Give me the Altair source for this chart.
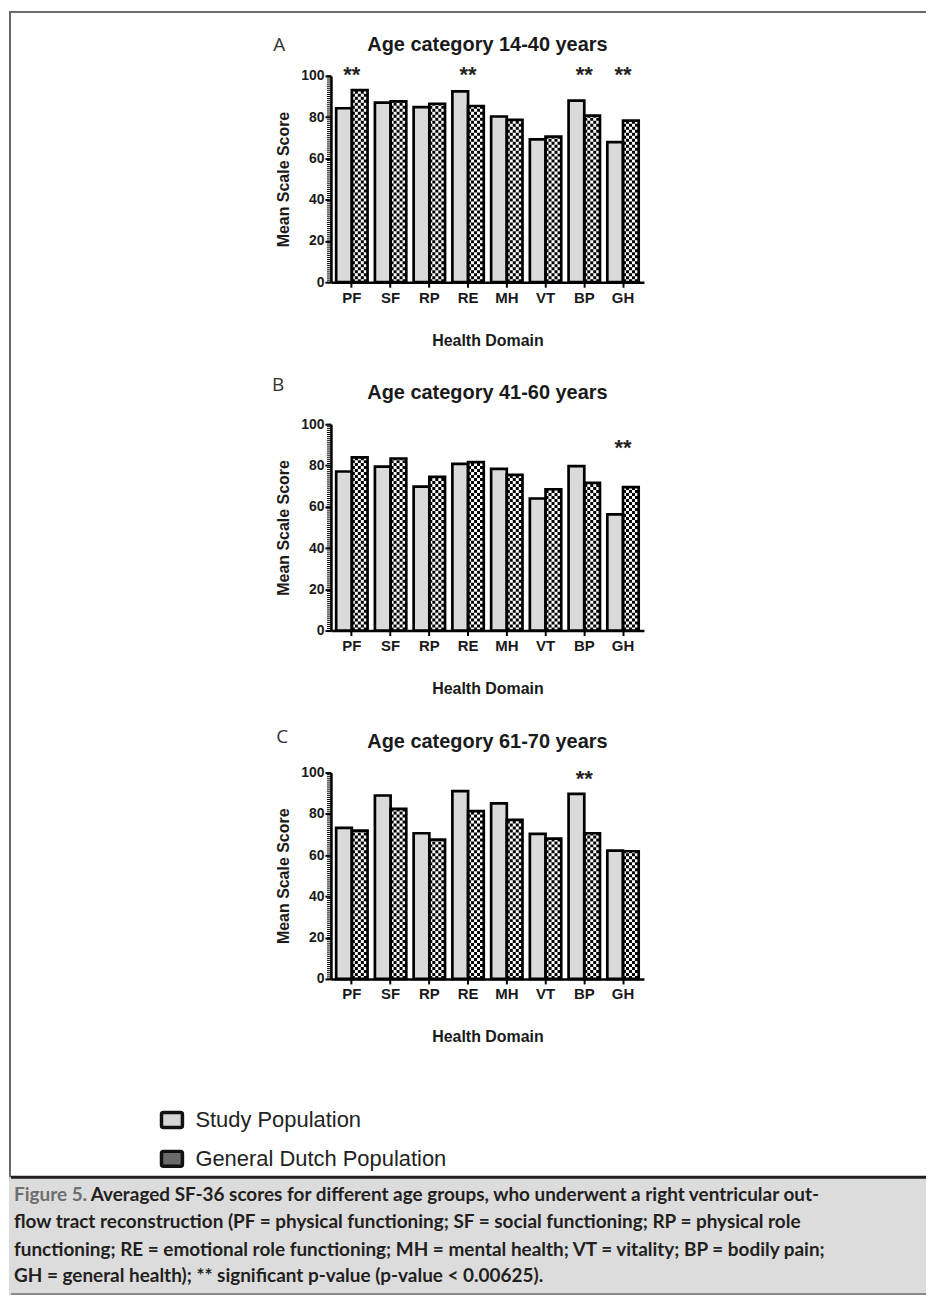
import altair as alt
import pandas as pd

# ---------------- data ----------------
domains = ["PF", "SF", "RP", "RE", "MH", "VT", "BP", "GH"]
groups = ["Study Population", "General Dutch Population"]
panel_letters = ["A", "B", "C"]
panel_titles = ["Age category 14-40 years", "Age category 41-60 years", "Age category 61-70 years"]

study_a = [84.3, 87.0, 84.9, 92.5, 80.3, 69.2, 88.0, 67.9]
dutch_a = [93.1, 87.6, 86.5, 85.4, 78.7, 70.6, 80.7, 78.3]
study_b = [77.1, 79.5, 69.8, 80.8, 78.4, 64.0, 79.7, 56.3]
dutch_b = [83.9, 83.4, 74.5, 81.6, 75.5, 68.5, 71.6, 69.5]
study_c = [73.2, 88.9, 70.6, 91.0, 85.1, 70.3, 89.7, 62.2]
dutch_c = [71.9, 82.4, 67.5, 81.3, 77.1, 68.0, 70.6, 61.9]

significant_a = ["PF", "RE", "BP", "GH"]
significant_b = ["GH"]
significant_c = ["BP"]
star_levels = [97.2, 85.0, 93.3]
star_label = "**"

y_ticks = [0, 20, 40, 60, 80, 100]
minor_ticks = list(range(0, 101))

y_title = "Mean Scale Score"
x_title = "Health Domain"

caption_head = "Figure 5."
caption_lines = [
    "Averaged SF-36 scores for different age groups, who underwent a right ventricular out-",
    "flow tract reconstruction (PF = physical functioning; SF = social functioning; RP = physical role",
    "functioning; RE = emotional role functioning; MH = mental health; VT = vitality; BP = bodily pain;",
    "GH = general health); ** significant p-value (p-value < 0.00625).",
]

# ---------------- styling ----------------
FONT = "Liberation Sans, Arial, Helvetica, sans-serif"
CAP_FONT = "Lato"
W, H = 314, 207
DARK = "#1a1a1a"

xaxis = alt.Axis(
    title=x_title, labelAngle=0, labelFont=FONT, labelFontWeight="bold", labelFontSize=15,
    labelColor=DARK, labelPadding=3, tickSize=5, tickWidth=2, tickColor="black",
    domainColor="black", domainWidth=2.5, titleFont=FONT, titleFontWeight="bold",
    titleFontSize=16, titleColor=DARK, titlePadding=27, grid=False,
)
yaxis = alt.Axis(
    title=y_title, values=y_ticks, labelFont=FONT, labelFontWeight="bold", labelFontSize=14,
    labelColor=DARK, labelPadding=1, tickSize=6, tickWidth=2, tickColor="black",
    domainColor="black", domainWidth=2.5, titleFont=FONT, titleFontWeight="bold",
    titleFontSize=16, titleColor=DARK, titlePadding=9, grid=False,
)
yscale = alt.Scale(domain=[0, 100], nice=False, zero=True)
xscale = alt.Scale(paddingInner=0.19, paddingOuter=0.135)

letter_pos = [(-52, -31), (-53, -39), (-49, -35.5)]


def make_panel(idx, study, dutch, significant, frame=False):
    df = pd.DataFrame({
        "domain": domains + domains,
        "group": [groups[0]] * len(domains) + [groups[1]] * len(domains),
        "score": study + dutch,
    })
    df["base"] = 0.0
    xenc = alt.X("domain:N", sort=domains, scale=xscale, axis=xaxis)
    yenc = alt.Y("score:Q", scale=yscale, axis=yaxis)
    xoff = alt.XOffset("group:N", sort=groups, scale=alt.Scale(paddingInner=0, paddingOuter=0))
    base = alt.Chart(df)

    fills = base.mark_bar(strokeWidth=0).encode(
        x=xenc, xOffset=xoff, y=yenc,
        fill=alt.Fill("group:N", scale=alt.Scale(domain=groups, range=["#dadada", "#ffffff"]), legend=None),
    )
    layers = [fills]
    for k in range(5):
        layers.append(
            base.transform_filter(alt.datum.group == groups[1])
            .mark_rule(color="black", strokeWidth=3, strokeDash=[3, 3],
                       strokeDashOffset=3 * (k % 2), xOffset=1.5 + 3 * k)
            .encode(x=xenc, y=alt.Y("base:Q", scale=yscale, axis=yaxis), y2="score:Q")
        )
    outline = base.mark_bar(fillOpacity=0, stroke="black", strokeWidth=2.7).encode(
        x=xenc, xOffset=xoff, y=yenc
    )
    layers.append(outline)

    minor = alt.Chart(pd.DataFrame({"t": minor_ticks})).mark_rule(color="black", strokeWidth=1).encode(
        y=alt.Y("t:Q", scale=yscale, axis=yaxis), x=alt.value(-4), x2=alt.value(0)
    )
    layers.append(minor)

    star_df = pd.DataFrame({
        "domain": significant,
        "level": [star_levels[idx]] * len(significant),
        "mark": [star_label] * len(significant),
    })
    stars = alt.Chart(star_df).mark_text(
        font=FONT, fontSize=22, fontWeight="bold", baseline="alphabetic", align="center", color="#222222"
    ).encode(x=xenc, y=alt.Y("level:Q", scale=yscale, axis=yaxis), text="mark:N")
    layers.append(stars)

    tdf = pd.DataFrame({"t": [panel_titles[idx]], "l": [panel_letters[idx]]})
    title = alt.Chart(tdf).mark_text(
        font=FONT, fontSize=20, fontWeight="bold", color=DARK, align="center", baseline="middle"
    ).encode(x=alt.value(W / 2), y=alt.value(-31), text="t:N")
    lx, ly = letter_pos[idx]
    letter = alt.Chart(tdf).mark_text(
        font="Open Sans", fontSize=19, color="#333333", align="center", baseline="middle"
    ).encode(x=alt.value(lx), y=alt.value(ly), text="l:N")
    layers += [title, letter]

    if frame:
        dummy = alt.Chart(pd.DataFrame({"d": [0]}))
        layers.append(dummy.mark_rule(color="#6a6a6a", strokeWidth=2).encode(
            x=alt.value(-322), x2=alt.value(-322), y=alt.value(-65), y2=alt.value(1223)))
        layers.append(dummy.mark_rule(color="#6a6a6a", strokeWidth=2).encode(
            x=alt.value(-323), x2=alt.value(597), y=alt.value(-64), y2=alt.value(-64)))

    return alt.layer(*layers).properties(width=W, height=H)


pA = make_panel(0, study_a, dutch_a, significant_a, frame=True)
pB = make_panel(1, study_b, dutch_b, significant_b)
pC = make_panel(2, study_c, dutch_c, significant_c)

# ---------------- legend + caption ----------------
dummy = alt.Chart(pd.DataFrame({"d": [0]}))
bottom_layers = [
    dummy.mark_rect(fill="#dcdcdc").encode(
        x=alt.value(-323), x2=alt.value(597), y=alt.value(56.5), y2=alt.value(174.5)),
    dummy.mark_rule(color="#231f20", strokeWidth=3).encode(
        x=alt.value(-321), x2=alt.value(597), y=alt.value(56.5), y2=alt.value(56.5)),
    dummy.mark_rule(color="#8a8a8a", strokeWidth=2).encode(
        x=alt.value(-321), x2=alt.value(597), y=alt.value(173.5), y2=alt.value(173.5)),
]
swatch_fill = ["#d6d6d6", "#6a6a6a"]
legend_y = [-0.5, 38.5]
for i, g in enumerate(groups):
    bottom_layers.append(
        dummy.mark_rect(fill=swatch_fill[i], stroke="#111111", strokeWidth=3.5, cornerRadius=2).encode(
            x=alt.value(-170), x2=alt.value(-149), y=alt.value(legend_y[i] - 8), y2=alt.value(legend_y[i] + 7))
    )
    bottom_layers.append(
        dummy.mark_text(text=g, font=FONT, fontSize=22, align="left", baseline="middle", color="#222222").encode(
            x=alt.value(-136), y=alt.value(legend_y[i]))
    )

cap_x = -318
cap_y = [74, 101.5, 129, 156]
CAP_SIZE = 19
bottom_layers.append(
    dummy.mark_text(text=caption_head, font=CAP_FONT, fontSize=CAP_SIZE, fontWeight="bold",
                    align="left", baseline="middle", color="#6d6e70").encode(
        x=alt.value(cap_x), y=alt.value(cap_y[0]))
)
for i, line in enumerate(caption_lines):
    xx = cap_x + 77 if i == 0 else cap_x
    bottom_layers.append(
        dummy.mark_text(text=line, font=CAP_FONT, fontSize=CAP_SIZE, fontWeight="bold",
                        align="left", baseline="middle", color="#231f20").encode(
            x=alt.value(xx), y=alt.value(cap_y[i]))
    )

bottom = alt.layer(*bottom_layers).properties(width=W, height=10)

chart = (
    alt.vconcat(pA, pB, pC, bottom, spacing=142.5, bounds="flush")
    .properties(padding=0)
    .configure_view(stroke=None)
)

chart.save("out.html", embed_options={"renderer": "svg", "actions": False})
